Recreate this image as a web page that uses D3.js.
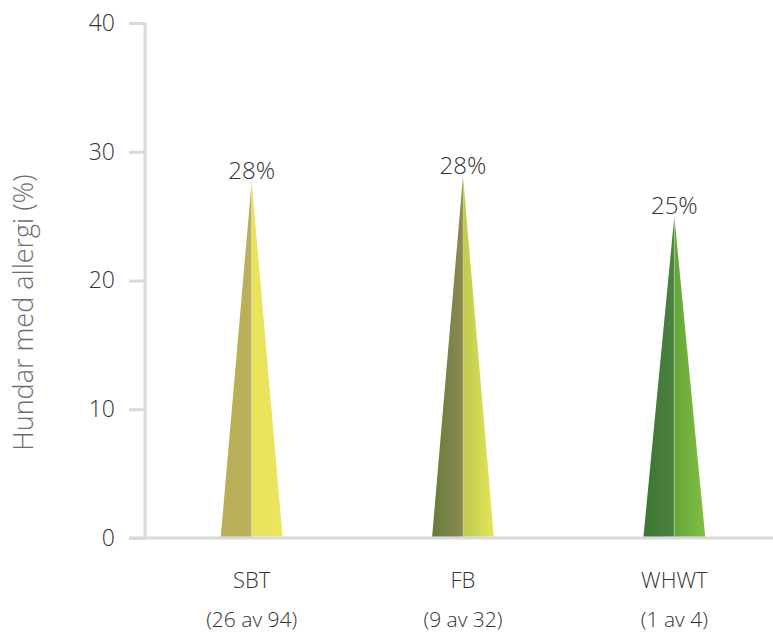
<!DOCTYPE html>
<html>
<head>
<meta charset="utf-8">
<script src="https://cdn.jsdelivr.net/npm/d3@7/dist/d3.min.js"></script>
<style>
  html, body { margin: 0; padding: 0; background: #fff; }
  svg { display: block; font-family: "Open Sans", "Noto Sans", sans-serif; }
</style>
</head>
<body>
<svg id="chart" width="773" height="633"></svg>
<script>
// Breeds and share of dogs with allergy
const breeds = ["SBT", "FB", "WHWT"];
const counts = ["(26 av 94)", "(9 av 32)", "(1 av 4)"];
const values = [27.7, 28.1, 25];
const valueLabels = ["28%", "28%", "25%"];
const yTicks = [0, 10, 20, 30, 40];

// Shading of each spike: [left half from, left half to, right half from, right half to]
const shades = [
  ["#b8ae58", "#bab05a", "#e8e25d", "#eae45f"],
  ["#667a3c", "#8b8b53", "#bfca4e", "#e4e55a"],
  ["#3a7633", "#4e8240", "#63a639", "#83be40"]
];

const svg = d3.select("#chart");
const W = 773, H = 633;
const margin = { left: 145, top: 23, bottom: 95 };

const y = d3.scaleLinear().domain([0, 40]).range([H - margin.bottom, margin.top]);
const x = d3.scaleBand().domain(breeds).range([146, 780]);
const halfW = x.bandwidth() * 0.146;

// gradients
const defs = svg.append("defs");
breeds.forEach((b, i) => {
  [["L", 0], ["R", 2]].forEach(([side, k]) => {
    const g = defs.append("linearGradient")
      .attr("id", `g-${i}-${side}`)
      .attr("x1", "0").attr("x2", "1").attr("y1", "0").attr("y2", "0");
    g.append("stop").attr("offset", "0").attr("stop-color", shades[i][k]);
    g.append("stop").attr("offset", "1").attr("stop-color", shades[i][k + 1]);
  });
});

// y axis
const axisColor = "#d9d9d9";
const yAxis = svg.append("g")
  .attr("transform", `translate(${margin.left},0)`)
  .call(d3.axisLeft(y).tickValues(yTicks).tickSize(16).tickPadding(14).tickFormat(d3.format("d")));
yAxis.select(".domain").attr("stroke", axisColor).attr("stroke-width", 3)
  .attr("d", `M0,${y(40)}V${y(0)}`);
yAxis.selectAll(".tick line").attr("stroke", axisColor).attr("stroke-width", 3);
yAxis.selectAll(".tick text")
  .attr("fill", "#333").attr("font-size", 23).attr("font-weight", 300)
  .attr("font-family", "'Open Sans', sans-serif");

// baseline
svg.append("line")
  .attr("x1", margin.left - 16).attr("x2", W)
  .attr("y1", y(0)).attr("y2", y(0))
  .attr("stroke", axisColor).attr("stroke-width", 3);

// y axis title
svg.append("text")
  .attr("transform", `translate(33,${(y(0) + y(40)) / 2 + 32}) rotate(-90)`)
  .attr("text-anchor", "middle")
  .attr("font-size", 27).attr("font-weight", 300)
  .attr("fill", "#6e6e6e")
  .text("Hundar med allergi (%)");

// spikes
const spikes = svg.append("g");
breeds.forEach((b, i) => {
  const cx = x(b) + x.bandwidth() / 2;
  const base = y(0) - 1.5;
  const top = y(values[i]);
  spikes.append("path")
    .attr("d", `M${cx - halfW},${base}L${cx},${top}L${cx},${base}Z`)
    .attr("fill", `url(#g-${i}-L)`);
  spikes.append("path")
    .attr("d", `M${cx},${base}L${cx},${top}L${cx + halfW},${base}Z`)
    .attr("fill", `url(#g-${i}-R)`);
  spikes.append("line")
    .attr("x1", cx).attr("x2", cx).attr("y1", top).attr("y2", base)
    .attr("stroke", "#ffffff").attr("stroke-opacity", 0.25).attr("stroke-width", 1);

  // value label
  svg.append("text")
    .attr("x", cx).attr("y", top - 2)
    .attr("text-anchor", "middle")
    .attr("font-size", 24).attr("font-weight", 300)
    .attr("fill", "#333")
    .text(valueLabels[i]);

  // category labels
  svg.append("text")
    .attr("x", cx).attr("y", 588)
    .attr("text-anchor", "middle")
    .attr("font-size", 22).attr("font-weight", 300)
    .attr("fill", "#333")
    .text(b);
  svg.append("text")
    .attr("x", cx).attr("y", 627)
    .attr("text-anchor", "middle")
    .attr("font-size", 21).attr("font-weight", 300)
    .attr("fill", "#333")
    .text(counts[i]);
});
</script>
</body>
</html>
